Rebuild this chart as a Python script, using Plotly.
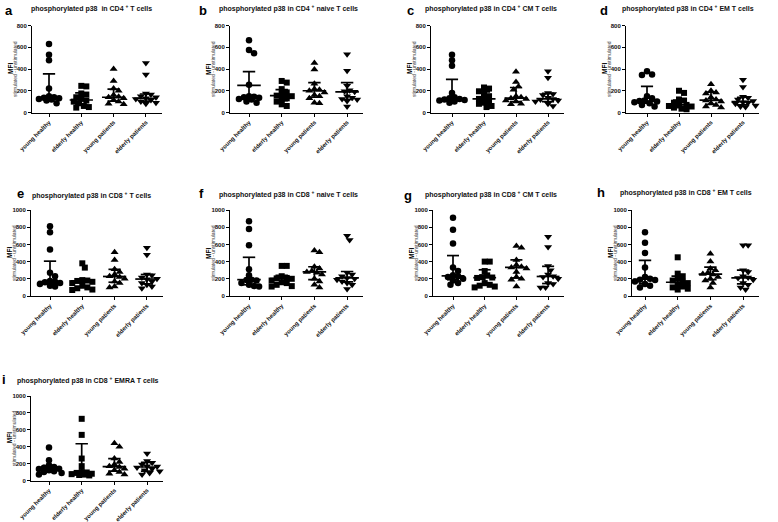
import plotly.graph_objects as go

W, H = 778, 522

groups = ["young healthy", "elderly healthy", "young patients", "elderly patients"]
letters = ["a", "b", "c", "d", "e", "f", "g", "h", "i"]
titles = [
    "phosphorylated p38  in CD4 <sup>+</sup> T cells",
    "phosphorylated p38 in CD4 <sup>+</sup> naive T cells",
    "phosphorylated p38 in CD4 <sup>+</sup> CM T cells",
    "phosphorylated p38 in CD4 <sup>+</sup> EM T cells",
    "phosphorylated p38 in CD8 <sup>+</sup> T cells",
    "phosphorylated p38 in CD8 <sup>+</sup> naive T cells",
    "phosphorylated p38 in CD8 <sup>+</sup> CM T cells",
    "phosphorylated p38 in CD8 <sup>+</sup> EM T cells",
    "phosphorylated p38 in CD8 <sup>+</sup> EMRA T cells",
]

# values per panel: [young healthy, elderly healthy, young patients, elderly patients]
a_vals = [[630, 530, 480, 220, 150, 140, 135, 130, 125, 120, 110, 85],
          [245, 240, 175, 165, 140, 125, 110, 100, 85, 60, 50, 45],
          [400, 290, 220, 200, 160, 145, 140, 130, 115, 100, 80, 75],
          [455, 350, 175, 165, 150, 140, 130, 125, 115, 100, 90, 80]]
b_vals = [[665, 575, 545, 255, 150, 145, 140, 135, 125, 120, 100, 90],
          [290, 275, 215, 185, 165, 155, 150, 130, 120, 100, 75, 60],
          [455, 395, 265, 215, 210, 200, 185, 160, 150, 130, 90, 85],
          [535, 385, 245, 205, 195, 190, 150, 135, 125, 120, 105, 55]]
c_vals = [[530, 480, 430, 180, 140, 130, 125, 120, 115, 110, 100, 90],
          [230, 220, 195, 185, 150, 135, 125, 100, 90, 80, 60, 50],
          [375, 280, 240, 210, 150, 140, 130, 125, 110, 100, 80, 75],
          [380, 320, 180, 170, 160, 135, 125, 120, 110, 100, 80, 60]]
d_vals = [[380, 350, 345, 150, 130, 110, 105, 100, 95, 85, 70, 55],
          [200, 180, 120, 110, 90, 75, 70, 60, 55, 45, 35, 30],
          [260, 200, 185, 175, 140, 120, 110, 100, 85, 70, 55, 45],
          [300, 235, 145, 135, 120, 105, 95, 90, 80, 65, 55, 50]]
e_vals = [[810, 740, 540, 270, 230, 175, 165, 160, 150, 140, 120, 110],
          [380, 330, 185, 180, 175, 165, 150, 120, 100, 90, 75, 70],
          [510, 420, 310, 280, 250, 230, 220, 200, 170, 150, 110, 100],
          [560, 480, 250, 240, 215, 200, 195, 170, 150, 130, 110, 90]]
f_vals = [[870, 780, 590, 310, 240, 190, 185, 180, 150, 130, 115, 110],
          [350, 350, 230, 210, 205, 200, 180, 160, 150, 130, 115, 110],
          [530, 510, 340, 320, 290, 280, 270, 250, 200, 170, 130, 100],
          [700, 650, 270, 250, 230, 210, 200, 190, 170, 150, 130, 80]]
g_vals = [[910, 770, 610, 330, 290, 240, 230, 220, 200, 180, 150, 130],
          [400, 400, 290, 240, 220, 215, 210, 150, 130, 120, 110, 100],
          [580, 560, 420, 360, 340, 330, 320, 280, 220, 200, 190, 110],
          [690, 570, 350, 300, 250, 230, 220, 200, 150, 140, 100, 100]]
h_vals = [[740, 620, 500, 330, 220, 200, 190, 185, 170, 140, 120, 100],
          [450, 260, 230, 200, 180, 165, 150, 130, 110, 100, 85, 75],
          [490, 400, 320, 300, 270, 255, 250, 220, 200, 180, 150, 100],
          [590, 590, 300, 280, 230, 215, 210, 190, 150, 130, 100, 75]]
i_vals = [[390, 240, 180, 160, 150, 140, 135, 120, 110, 100, 90, 70],
          [730, 540, 260, 170, 100, 95, 90, 80, 75, 70, 65, 60],
          [440, 400, 260, 220, 190, 170, 160, 140, 120, 100, 80, 70],
          [320, 230, 210, 190, 170, 165, 155, 140, 120, 110, 90, 70]]

# median and interquartile range as drawn: [median, lower, upper] per group
a_bars = [[135, 118, 355], [115, 70, 180], [140, 105, 215], [130, 105, 170]]
b_bars = [[249, 130, 375], [156, 110, 210], [200, 140, 275], [190, 120, 275]]
c_bars = [[123, 108, 305], [125, 80, 190], [132, 100, 230], [125, 100, 175]]
d_bars = [[103, 85, 240], [70, 45, 115], [113, 75, 188], [100, 70, 140]]
e_bars = [[168, 140, 405], [175, 100, 185], [227, 160, 310], [197, 140, 250]]
f_bars = [[190, 130, 450], [203, 140, 240], [280, 190, 340], [210, 165, 285]]
g_bars = [[234, 190, 470], [213, 125, 305], [333, 210, 420], [227, 145, 345]]
h_bars = [[195, 140, 415], [160, 105, 230], [255, 190, 335], [210, 140, 300]]
i_bars = [[135, 105, 175], [95, 70, 435], [165, 110, 260], [160, 110, 215]]

all_vals = [a_vals, b_vals, c_vals, d_vals, e_vals, f_vals, g_vals, h_vals, i_vals]
all_bars = [a_bars, b_bars, c_bars, d_bars, e_bars, f_bars, g_bars, h_bars, i_bars]
y_max = [800, 800, 800, 800, 1000, 1000, 1000, 1000, 1000]

# ---- layout geometry (pixels) ----
left_px = [32, 230, 431, 626, 31, 230, 433, 632, 31]
tick0_px = [49, 249, 452, 647, 50, 249, 453, 645, 49]
sp_px = [32.3, 32.7, 32.0, 32.0, 32.3, 32.7, 31.7, 32.7, 32.7]
top_px = [25.5] * 4 + [210] * 4 + [396]
bot_px = [112.5] * 4 + [296] * 4 + [480.5]
letter_pos = [(3, 10), (197, 10), (405, 10), (598, 10), (15, 193), (197, 193), (402, 195), (595, 192), (0, 379)]
title_pos = [(29, 8), (217, 8), (423, 8), (620, 8), (30, 195), (217, 194), (423, 194), (618, 192), (15, 380)]

symbols = ["circle", "square", "triangle-up", "triangle-down"]
msizes = [6.5, 6, 7, 7]
FONT = "Arial, Liberation Sans, sans-serif"
DIAM = 6.0
MAX_OFF = 0.42  # widest spread of a group, in category units


def swarm(vals, ppu, sp):
    placed = []
    offs = []
    step = 0.42 * DIAM
    cands = [0]
    for k in range(1, 20):
        cands += [k * step, -k * step]
    cands = [c for c in cands if abs(c) <= MAX_OFF * sp]
    for v in vals:
        y = v * ppu
        best = None
        for c in cands:
            ok = all((c - px) ** 2 + (y - py) ** 2 >= (DIAM * 0.78) ** 2 for px, py in placed)
            if ok:
                best = c
                break
        if best is None:
            best = min(cands, key=lambda c: -min(((c - px) ** 2 + (y - py) ** 2) for px, py in placed))
        placed.append((best, y))
        offs.append(best / sp)
    return offs


fig = go.Figure()
layout = dict(width=W, height=H, margin=dict(l=0, r=0, t=0, b=0, autoexpand=False),
              paper_bgcolor="white", plot_bgcolor="white", showlegend=False,
              font=dict(family=FONT, color="black"))
annotations = []

for p in range(9):
    n = "" if p == 0 else str(p + 1)
    xa, ya = "x" + n, "y" + n
    left, t0, sp = left_px[p], tick0_px[p], sp_px[p]
    xr0 = -(t0 - left) / sp
    xr1 = 3.5
    right = t0 + xr1 * sp
    ppu = (bot_px[p] - top_px[p]) / y_max[p]
    layout["xaxis" + n] = dict(
        domain=[left / W, right / W], range=[xr0, xr1], anchor=ya, automargin=False,
        tickmode="array", tickvals=[0, 1, 2, 3], ticktext=groups, tickangle=-45,
        showline=True, linecolor="black", linewidth=1, ticks="outside", ticklen=3,
        tickcolor="black", showgrid=False, zeroline=False,
        tickfont=dict(size=6, family=FONT, color="#111", weight="bold"), fixedrange=True)
    layout["yaxis" + n] = dict(
        domain=[1 - bot_px[p] / H, 1 - top_px[p] / H], range=[0, y_max[p]], anchor=xa,
        automargin=False, tickmode="linear", tick0=0, dtick=200,
        showline=True, linecolor="black", linewidth=1, ticks="outside", ticklen=3,
        tickcolor="black", showgrid=False, zeroline=False,
        tickfont=dict(size=6, family=FONT, color="#111", weight="bold"), fixedrange=True)

    for gi in range(4):
        vals = all_vals[p][gi]
        offs = swarm(vals, ppu, sp)
        fig.add_trace(go.Scatter(
            x=[gi + o for o in offs], y=vals, mode="markers", xaxis=xa, yaxis=ya,
            marker=dict(symbol=symbols[gi], size=msizes[gi], color="black", line=dict(width=0)),
            cliponaxis=False, hoverinfo="skip"))
    lx, ly = [], []
    for gi in range(4):
        med, lo, hi = all_bars[p][gi]
        lx += [gi - 0.36, gi + 0.36, None, gi, gi, None,
               gi - 0.19, gi + 0.19, None, gi - 0.19, gi + 0.19, None]
        ly += [med, med, None, lo, hi, None, lo, lo, None, hi, hi, None]
    fig.add_trace(go.Scatter(x=lx, y=ly, mode="lines", xaxis=xa, yaxis=ya,
                             line=dict(color="black", width=1.7), cliponaxis=False,
                             hoverinfo="skip", connectgaps=False))

    annotations.append(dict(text="<b>" + letters[p] + "</b>", x=letter_pos[p][0] / W, y=1 - letter_pos[p][1] / H,
                            xref="paper", yref="paper", xanchor="left", yanchor="middle", showarrow=False,
                            font=dict(size=13, family=FONT, color="black")))
    annotations.append(dict(text="<b>" + titles[p] + "</b>", x=title_pos[p][0] / W, y=1 - title_pos[p][1] / H,
                            xref="paper", yref="paper", xanchor="left", yanchor="middle", showarrow=False,
                            font=dict(size=7, family=FONT, color="#111")))
    ymid = 1 - (top_px[p] + bot_px[p]) / 2 / H
    annotations.append(dict(text="<b>MFI</b>", x=(left - 22) / W, y=ymid, textangle=-90,
                            xref="paper", yref="paper", xanchor="center", yanchor="middle", showarrow=False,
                            font=dict(size=6.5, family=FONT, color="black")))
    annotations.append(dict(text="stimulated - unstimulated", x=(left - 17) / W, y=ymid, textangle=-90,
                            xref="paper", yref="paper", xanchor="center", yanchor="middle", showarrow=False,
                            font=dict(size=5, family=FONT, color="#444")))

layout["annotations"] = annotations
fig.update_layout(**layout)
fig.write_html("out.html", config={"displayModeBar": False, "staticPlot": True})

# remove the browser's default page margin so the figure sits at the window's corner
with open("out.html", "r", encoding="utf-8") as fh:
    html = fh.read()
html = html.replace("<head>", "<head><style>html,body{margin:0;padding:0;overflow:hidden;}</style>", 1)
with open("out.html", "w", encoding="utf-8") as fh:
    fh.write(html)
